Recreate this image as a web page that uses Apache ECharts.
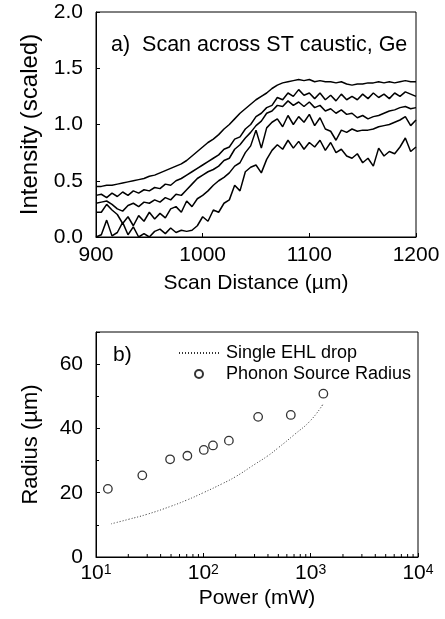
<!DOCTYPE html>
<html>
<head>
<meta charset="utf-8">
<script src="https://cdn.jsdelivr.net/npm/echarts@6/dist/echarts.min.js"></script>
<style>
html, body { margin: 0; padding: 0; background: #fff; }
#chart { width: 445px; height: 619px; }
</style>
</head>
<body>
<div id="chart"></div>
<script>
// ---------------------------------------------------------------- data
// a) scan across ST caustic : x positions (um)
var scanX = [900, 905, 910, 915, 920, 925, 930, 935, 940, 945,
	950, 955, 960, 965, 970, 975, 980, 985, 990, 995,
	1000, 1005, 1010, 1015, 1020, 1025, 1030, 1035, 1040, 1045,
	1050, 1055, 1060, 1065, 1070, 1075, 1080, 1085, 1090, 1095,
	1100, 1105, 1110, 1115, 1120, 1125, 1130, 1135, 1140, 1145,
	1150, 1155, 1160, 1165, 1170, 1175, 1180, 1185, 1190, 1195, 1200];
// five traces, top to bottom
var scan1 = [0.45, 0.45, 0.46, 0.46, 0.47, 0.48, 0.49, 0.50, 0.51, 0.52,
	0.54, 0.55, 0.57, 0.59, 0.61, 0.63, 0.65, 0.68, 0.72, 0.76,
	0.80, 0.84, 0.87, 0.91, 0.96, 1.00, 1.05, 1.10, 1.14, 1.18,
	1.22, 1.25, 1.28, 1.32, 1.35, 1.37, 1.38, 1.39, 1.40, 1.39,
	1.40, 1.38, 1.39, 1.38, 1.38, 1.37, 1.38, 1.36, 1.35, 1.36,
	1.36, 1.37, 1.37, 1.38, 1.37, 1.38, 1.37, 1.38, 1.39, 1.38, 1.38];
var scan2 = [0.37, 0.38, 0.35, 0.39, 0.36, 0.40, 0.37, 0.41, 0.39, 0.42,
	0.41, 0.44, 0.43, 0.47, 0.46, 0.50, 0.52, 0.55, 0.58, 0.61,
	0.64, 0.67, 0.70, 0.73, 0.78, 0.80, 0.87, 0.89, 0.96, 1.00,
	1.07, 1.10, 1.15, 1.17, 1.24, 1.22, 1.28, 1.25, 1.31, 1.26,
	1.28, 1.23, 1.28, 1.22, 1.26, 1.21, 1.27, 1.22, 1.25, 1.22,
	1.27, 1.23, 1.28, 1.24, 1.27, 1.23, 1.28, 1.25, 1.29, 1.27, 1.25];
var scan3 = [0.30, 0.31, 0.32, 0.29, 0.25, 0.23, 0.28, 0.30, 0.27, 0.31,
	0.30, 0.33, 0.31, 0.35, 0.33, 0.38, 0.37, 0.42, 0.47, 0.52,
	0.55, 0.58, 0.60, 0.63, 0.68, 0.70, 0.78, 0.82, 0.88, 0.93,
	0.99, 1.03, 1.10, 1.12, 1.17, 1.16, 1.21, 1.17, 1.20, 1.16,
	1.20, 1.15, 1.17, 1.12, 1.14, 1.10, 1.13, 1.09, 1.10, 1.06,
	1.08, 1.05, 1.07, 1.08, 1.10, 1.12, 1.13, 1.15, 1.16, 1.14, 1.15];
var scan4 = [0.22, 0.22, 0.29, 0.24, 0.20, 0.12, 0.18, 0.10, 0.19, 0.14,
	0.22, 0.16, 0.21, 0.17, 0.25, 0.27, 0.22, 0.32, 0.27, 0.34,
	0.37, 0.41, 0.46, 0.50, 0.53, 0.57, 0.63, 0.66, 0.75, 0.81,
	0.95, 0.79, 0.97, 1.02, 1.05, 0.98, 1.08, 1.00, 1.07, 1.02,
	1.09, 0.99, 1.06, 0.96, 0.94, 0.86, 0.95, 0.93, 0.96, 0.94,
	0.95, 0.95, 0.96, 0.98, 0.99, 1.00, 1.02, 1.04, 1.07, 0.99, 1.04];
var scan5 = [0.00, 0.02, 0.15, 0.01, 0.04, 0.13, 0.02, 0.09, 0.00, 0.03,
	0.00, 0.05, 0.07, 0.03, 0.08, 0.04, 0.06, 0.05, 0.06, 0.10,
	0.18, 0.14, 0.24, 0.22, 0.30, 0.33, 0.46, 0.41, 0.58, 0.62,
	0.64, 0.57, 0.69, 0.77, 0.82, 0.78, 0.86, 0.79, 0.85, 0.78,
	0.84, 0.80, 0.86, 0.77, 0.84, 0.75, 0.78, 0.72, 0.70, 0.74,
	0.66, 0.70, 0.63, 0.79, 0.72, 0.76, 0.74, 0.80, 0.88, 0.76, 0.80];

// b) radius vs power
var ehlPower = [13.8, 20, 30, 50, 70, 100, 150, 200, 300, 400, 500, 700, 1000, 1300];
var ehlRadius = [10.3, 11.7, 13.3, 15.8, 17.7, 20.0, 22.8, 25.0, 28.8, 31.5, 34.0, 38.0, 42.5, 47.5];
var srcPower = [12.9, 27, 49, 71, 101, 123, 173, 324, 653, 1313];
var srcRadius = [21.2, 25.4, 30.4, 31.5, 33.3, 34.7, 36.2, 43.6, 44.2, 50.8];
// minor ticks of the log power axis
var powerMinor = [20, 30, 40, 50, 60, 70, 80, 90,
	200, 300, 400, 500, 600, 700, 800, 900,
	2000, 3000, 4000, 5000, 6000, 7000, 8000, 9000];

var FONT = '"Liberation Sans", Arial, sans-serif';

// zip two arrays into [x, y] pairs
function pairs(xs, ys) {
	var out = [];
	for (var i = 0; i < xs.length; i++) out.push([xs[i], ys[i]]);
	return out;
}

// ---------------------------------------------------------------- chart
var chart = echarts.init(document.getElementById('chart'), null, { renderer: 'canvas' });

var axisCommon = {
	axisLine: { lineStyle: { color: '#000', width: 1 } },
	axisTick: { inside: true, length: 4, lineStyle: { color: '#000' } },
	splitLine: { show: false },
	axisLabel: { color: '#000', fontFamily: FONT, fontSize: 21 },
	nameTextStyle: { color: '#000', fontFamily: FONT, fontSize: 21 },
	nameLocation: 'middle'
};

var scanSeries = [scan1, scan2, scan3, scan4, scan5].map(function(s, i) {
	return {
		name: 'scan' + (i + 1),
		type: 'line',
		xAxisIndex: 0,
		yAxisIndex: 0,
		data: pairs(scanX, s),
		symbol: 'none',
		lineStyle: { color: '#000', width: 1.5 },
		clip: true,
		silent: true
	};
});

var option = {
	animation: false,
	backgroundColor: '#fff',
	title: [{
		text: 'a)  Scan across ST caustic, Ge',
		left: 106, top: 29,
		textStyle: { color: '#000', fontFamily: FONT, fontSize: 21.5, fontWeight: 'normal' }
	}, {
		text: 'b)',
		left: 108, top: 340,
		textStyle: { color: '#000', fontFamily: FONT, fontSize: 21, fontWeight: 'normal' }
	}],
	legend: {
		left: 173, top: 339,
		orient: 'vertical',
		itemWidth: 40, itemHeight: 8, itemGap: 3,
		textStyle: { color: '#000', fontFamily: FONT, fontSize: 18, padding: [0, 0, 0, 2] },
		data: [
			{ name: 'Single EHL drop', itemStyle: { opacity: 0 } },
			{ name: 'Phonon Source Radius' }
		]
	},
	grid: [
		{ left: 96, right: 29, top: 12, height: 225, show: true, borderColor: '#000', borderWidth: 1 },
		{ left: 96, right: 27, top: 332, height: 225, show: true, borderColor: '#000', borderWidth: 1 }
	],
	xAxis: [
		Object.assign({}, axisCommon, {
			gridIndex: 0, type: 'value', min: 900, max: 1200, interval: 100,
			name: 'Scan Distance (\u00b5m)', nameGap: 36,
			axisLabel: Object.assign({}, axisCommon.axisLabel, {
				margin: 8,
				formatter: function(v) { return String(v); }
			})
		}),
		Object.assign({}, axisCommon, {
			gridIndex: 1, type: 'log', logBase: 10, min: 10, max: 10000,
			name: 'Power (mW)', nameGap: 31,
			axisLabel: Object.assign({}, axisCommon.axisLabel, {
				margin: 6,
				formatter: function(v) {
					return '10{sup|' + Math.round(Math.log(v) / Math.LN10) + '}';
				},
				rich: { sup: { fontSize: 14, fontFamily: FONT, color: '#000', verticalAlign: 'top', lineHeight: 12 } }
			})
		})
	],
	yAxis: [
		Object.assign({}, axisCommon, {
			gridIndex: 0, type: 'value', min: 0, max: 2, interval: 0.5,
			name: 'Intensity (scaled)', nameGap: 54,
			nameTextStyle: { color: '#000', fontFamily: FONT, fontSize: 24 },
			axisLabel: Object.assign({}, axisCommon.axisLabel, {
				margin: 13,
				formatter: function(v) { return v.toFixed(1); }
			})
		}),
		Object.assign({}, axisCommon, {
			gridIndex: 1, type: 'value', min: 0, max: 70, interval: 20,
			name: 'Radius (\u00b5m)', nameGap: 54,
			nameTextStyle: { color: '#000', fontFamily: FONT, fontSize: 22 },
			minorTick: { show: true, splitNumber: 2, length: 3, lineStyle: { color: '#000' } },
			axisLabel: Object.assign({}, axisCommon.axisLabel, {
				margin: 13,
				showMaxLabel: false
			})
		})
	],
	series: scanSeries.concat([{
		name: 'Single EHL drop',
		type: 'line',
		xAxisIndex: 1,
		yAxisIndex: 1,
		data: pairs(ehlPower, ehlRadius),
		symbol: 'none',
		smooth: true,
		itemStyle: { color: '#333' },
		lineStyle: { color: '#333', width: 1, type: [1, 2] }
	}, {
		name: 'Phonon Source Radius',
		type: 'scatter',
		xAxisIndex: 1,
		yAxisIndex: 1,
		data: pairs(srcPower, srcRadius),
		symbol: 'circle',
		symbolSize: 8.5,
		itemStyle: { color: '#fff', borderColor: '#000', borderWidth: 1.3 }
	}, {
		// minor ticks on the log axis, placed through the axis scale
		name: 'minorTicks',
		type: 'custom',
		xAxisIndex: 1,
		yAxisIndex: 1,
		silent: true,
		data: powerMinor.map(function(p) { return [p, 0]; }),
		renderItem: function(params, api) {
			var pt = api.coord([api.value(0), api.value(1)]);
			return {
				type: 'line',
				shape: { x1: pt[0], y1: pt[1], x2: pt[0], y2: pt[1] - 3 },
				style: { stroke: '#000', lineWidth: 1 }
			};
		}
	}])
};

chart.setOption(option);
</script>
</body>
</html>
